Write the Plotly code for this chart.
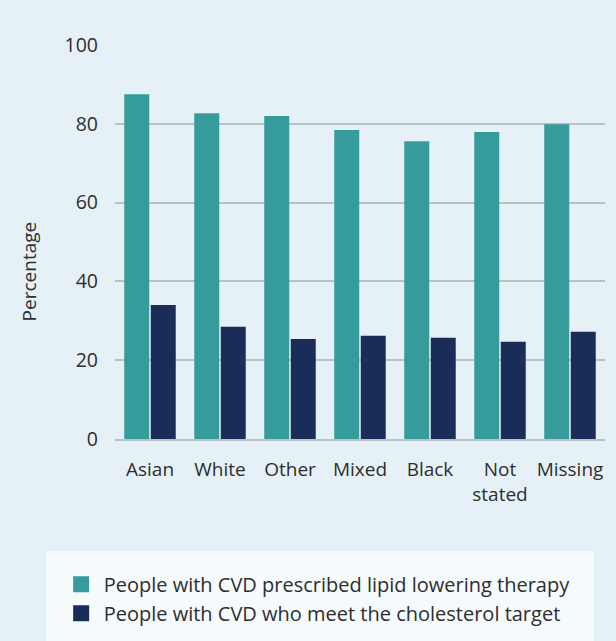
import plotly.graph_objects as go

categories = ["Asian", "White", "Other", "Mixed", "Black", "Not<br>stated", "Missing"]
lipid_therapy = [87.5, 82.7, 82.0, 78.4, 75.6, 77.9, 79.9]
cholesterol_target = [34.0, 28.5, 25.4, 26.2, 25.7, 24.7, 27.2]
series_names = ["People with CVD prescribed lipid lowering therapy",
                "People with CVD who meet the cholesterol target"]
y_ticks = [0, 20, 40, 60, 80, 100]

TEAL = "#359C9B"
NAVY = "#1A2D59"
BG = "#E6F1F7"
TEXT = "#2E2E2E"
FONT = "Open Sans"

fig = go.Figure()
fig.add_trace(go.Bar(x=categories, y=lipid_therapy, marker=dict(color=TEAL, line=dict(width=0)),
                     showlegend=False, name=series_names[0]))
fig.add_trace(go.Bar(x=categories, y=cholesterol_target, marker=dict(color=NAVY, line=dict(width=0)),
                     showlegend=False, name=series_names[1]))
# legend entries
for nm, col, grp in [(series_names[0], TEAL, "a"), (series_names[1], NAVY, "b")]:
    fig.add_trace(go.Scatter(x=[None], y=[None], mode="markers", name=nm, legendgroup=grp,
                             marker=dict(symbol="square", size=16, color=col)))

fig.update_layout(
    width=616, height=641,
    margin=dict(l=115, r=11, t=45, b=202, autoexpand=False),
    paper_bgcolor=BG, plot_bgcolor=BG,
    barmode="group", bargap=0.243, bargroupgap=0.057,
    font=dict(family=FONT, size=19, color=TEXT),
    xaxis=dict(showgrid=False, showline=True, linecolor="#B9C2C5", linewidth=2,
               ticks="", ticklabelstandoff=12, tickfont=dict(size=19, family=FONT, color=TEXT)),
    yaxis=dict(range=[0, 100], tickvals=y_ticks, showgrid=True, gridcolor="#B9C2C5", gridwidth=2,
               zeroline=False, showline=False, ticks="", ticklabelstandoff=16,
               tickfont=dict(size=19.5, family=FONT, color=TEXT)),
    legend=dict(x=-0.115, xanchor="left", y=-0.319, yanchor="top", bgcolor="rgba(0,0,0,0)",
                font=dict(size=20, family=FONT, color=TEXT), tracegroupgap=0,
                itemsizing="trace", itemwidth=35),
    shapes=[dict(type="rect", xref="paper", yref="paper", x0=-0.1408, x1=0.9776, y0=-0.52, y1=-0.284,
                 fillcolor="#F5FAFC", line=dict(width=0), layer="below")],
    annotations=[dict(text="Percentage", xref="paper", yref="paper", x=-0.175, y=0.426,
                      textangle=-90, showarrow=False, xanchor="center", yanchor="middle",
                      font=dict(family=FONT, size=19, color=TEXT))],
)

fig.write_html("out.html")
